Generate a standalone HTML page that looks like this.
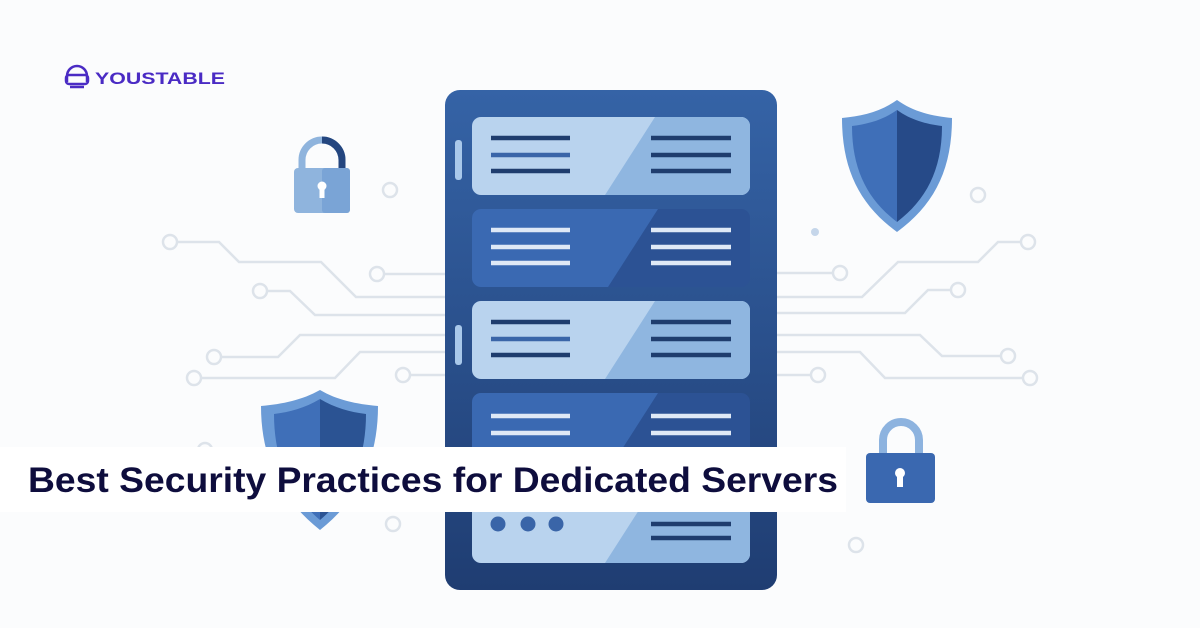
<!DOCTYPE html>
<html><head><meta charset="utf-8"><style>html,body{margin:0;padding:0;background:#fbfcfd}svg{display:block}</style></head>
<body>
<svg width="1200" height="628" viewBox="0 0 1200 628" xmlns="http://www.w3.org/2000/svg">
<defs>
<linearGradient id="srv" x1="0" y1="0" x2="0" y2="1"><stop offset="0" stop-color="#3563a6"/><stop offset="1" stop-color="#1f3d72"/></linearGradient>
</defs>
<rect width="1200" height="628" fill="#fbfcfd"/>
<!-- circuits -->
<g fill="none" stroke="#dde3ea" stroke-width="2.5">
<path d="M177,242 H219 L239,262 H321 L356,297 H445"/>
<path d="M384,274 H445"/>
<path d="M267,291 H290 L315,315 H445"/>
<path d="M445,335 H300 L278,357 H221"/>
<path d="M445,352 H360 L335,378 H201"/>
<path d="M410,375 H445"/>
<path d="M777,273 H833"/>
<path d="M777,297 H862 L898,262 H978 L998,242 H1021"/>
<path d="M777,313 H905 L928,290 H951"/>
<path d="M777,335 H920 L942,356 H1001"/>
<path d="M777,352 H860 L885,378 H1023"/>
<path d="M777,375 H811"/>
<circle cx="170" cy="242" r="7"/><circle cx="377" cy="274" r="7"/><circle cx="260" cy="291" r="7"/>
<circle cx="214" cy="357" r="7"/><circle cx="194" cy="378" r="7"/><circle cx="403" cy="375" r="7"/>
<circle cx="840" cy="273" r="7"/><circle cx="1028" cy="242" r="7"/><circle cx="958" cy="290" r="7"/>
<circle cx="1008" cy="356" r="7"/><circle cx="1030" cy="378" r="7"/><circle cx="818" cy="375" r="7"/>
<circle cx="390" cy="190" r="7"/><circle cx="978" cy="195" r="7"/><circle cx="393" cy="524" r="7"/><circle cx="856" cy="545" r="7"/><circle cx="205" cy="450" r="7"/>
</g>
<circle cx="815" cy="232" r="4" fill="#c5d6ea"/>
<!-- lock top left -->
<path d="M302,170 V160 a20,20 0 0 1 40,0 V170" fill="none" stroke="#8fb4dd" stroke-width="7"/>
<path d="M322,140 a20,20 0 0 1 20,20 V170" fill="none" stroke="#24467f" stroke-width="7"/>
<rect x="294" y="168" width="56" height="45" rx="4" fill="#8fb4dd"/>
<rect x="322" y="168" width="28" height="45" rx="3" fill="#7aa4d6"/>
<circle cx="322" cy="186" r="4.5" fill="#fff"/><rect x="319.5" y="186" width="5" height="12" fill="#fff"/>
<!-- shield top right -->
<path d="M897,100 C880,112 862,116 842,118 C842,170 860,205 897,232 C934,205 952,170 952,118 C932,116 914,112 897,100Z" fill="#6b9bd6"/>
<path d="M897,110 C883,120 868,124 852,126 C852,170 868,200 897,222Z" fill="#3f6fb8"/>
<path d="M897,110 C911,120 926,124 942,126 C942,170 926,200 897,222Z" fill="#264a88"/>
<!-- shield bottom left -->
<path d="M320,390 C302,400 283,404 261,406 C261,460 282,500 320,530 C358,500 378,460 378,406 C356,404 337,400 320,390Z" fill="#6b9bd6"/>
<path d="M320,399 C305,408 290,412 274,414 C274,460 290,495 320,520Z" fill="#3f6fb8"/>
<path d="M320,399 C335,408 350,412 366,414 C366,460 350,495 320,520Z" fill="#2b5393"/>
<!-- lock bottom right -->
<path d="M883,456 V440 a18,18 0 0 1 36,0 V456" fill="none" stroke="#8db3df" stroke-width="8"/>
<rect x="866" y="453" width="69" height="50" rx="4" fill="#3a68b0"/>
<circle cx="900" cy="473" r="5" fill="#fff"/><rect x="897" y="473" width="6" height="14" fill="#fff"/>
<!-- server -->
<rect x="445" y="90" width="332" height="500" rx="15" fill="url(#srv)"/>
<rect x="455" y="140" width="7" height="40" rx="3" fill="#a9c8ea"/>
<rect x="455" y="325" width="7" height="40" rx="3" fill="#a9c8ea"/>
<g id="light">
</g>
<!-- panel 1 light -->
<rect x="472" y="117" width="278" height="78" rx="9" fill="#b9d3ee"/>
<path d="M655,117 H741 a9,9 0 0 1 9,9 V186 a9,9 0 0 1 -9,9 H605Z" fill="#8fb6e0"/>
<!-- panel 2 dark -->
<rect x="472" y="209" width="278" height="78" rx="9" fill="#2c5294"/>
<path d="M481,209 H658 L608,287 H481 a9,9 0 0 1 -9,-9 V218 a9,9 0 0 1 9,-9Z" fill="#3a69b2"/>
<!-- panel 3 light -->
<rect x="472" y="301" width="278" height="78" rx="9" fill="#b9d3ee"/>
<path d="M655,301 H741 a9,9 0 0 1 9,9 V370 a9,9 0 0 1 -9,9 H605Z" fill="#8fb6e0"/>
<!-- panel 4 dark -->
<rect x="472" y="393" width="278" height="78" rx="9" fill="#2c5294"/>
<path d="M481,393 H658 L608,471 H481 a9,9 0 0 1 -9,-9 V402 a9,9 0 0 1 9,-9Z" fill="#3a69b2"/>
<!-- panel 5 light -->
<rect x="472" y="485" width="278" height="78" rx="9" fill="#b9d3ee"/>
<path d="M655,485 H741 a9,9 0 0 1 9,9 V554 a9,9 0 0 1 -9,9 H605Z" fill="#8fb6e0"/>
<g stroke-width="4.5">
<path d="M491,138 H570 M491,171 H570 M651,138 H731 M651,155 H731 M651,171 H731" stroke="#1f3d6e"/>
<path d="M491,155 H570" stroke="#3a65a8"/>
<path d="M491,230 H570 M491,247 H570 M491,263 H570 M651,230 H731 M651,247 H731 M651,263 H731" stroke="#dfe9f6"/>
<path d="M491,322 H570 M491,355 H570 M651,322 H731 M651,339 H731 M651,355 H731" stroke="#1f3d6e"/>
<path d="M491,339 H570" stroke="#3a65a8"/>
<path d="M491,416 H570 M491,433 H570 M651,416 H731 M651,433 H731" stroke="#dfe9f6"/>
<path d="M651,524 H731 M651,538 H731" stroke="#1f3d6e"/>
</g>
<circle cx="498" cy="524" r="7.5" fill="#3a65a8"/><circle cx="528" cy="524" r="7.5" fill="#3a65a8"/><circle cx="556" cy="524" r="7.5" fill="#3a65a8"/>
<!-- banner -->
<rect x="0" y="447" width="846" height="65" fill="#ffffff"/>
<text x="28" y="492" font-family="Liberation Sans, sans-serif" font-weight="bold" font-size="35" fill="#0e0d3d" textLength="810" lengthAdjust="spacingAndGlyphs">Best Security Practices for Dedicated Servers</text>
<!-- logo -->
<g fill="none" stroke="#4a2bc4" stroke-width="2.5">
<path d="M67,82 V76 a10,10 0 0 1 20,0 V82"/>
<rect x="66" y="75" width="22" height="9" rx="3"/>
<path d="M70,87 H84"/>
</g>
<text x="95" y="84" font-family="Liberation Sans, sans-serif" font-weight="bold" font-size="17" fill="#4a2bc4" textLength="130" lengthAdjust="spacingAndGlyphs">YOUSTABLE</text>
</svg>
</body></html>
